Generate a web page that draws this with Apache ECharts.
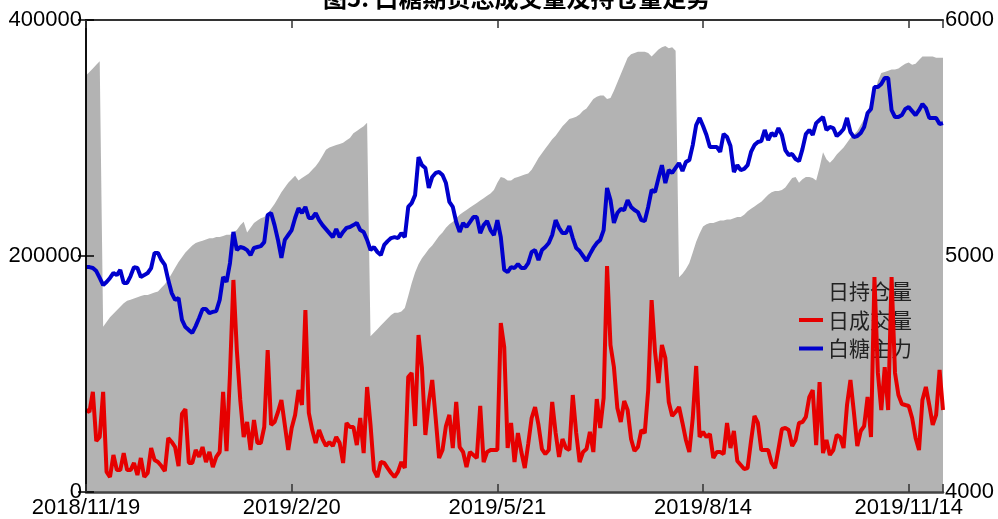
<!DOCTYPE html>
<html>
<head>
<meta charset="utf-8">
<title>白糖期货成交量及持仓量</title>
<script src="https://cdn.jsdelivr.net/npm/echarts@6/dist/echarts.min.js"></script>
<style>
  html, body { margin: 0; padding: 0; background: #fff; }
  #chart { width: 998px; height: 519px; }
</style>
</head>
<body>
<div id="chart"></div>
<script>
// x轴刻度位置（交易日序号）与标签
const tickIndex = [0, 60, 120, 180, 240]
const tickLabels = ['2018/11/19', '2019/2/20', '2019/5/21', '2019/8/14', '2019/11/14']

// 日持仓量（手）
const holding = [
  353000, 356000, 359000, 362000, 365000, 140000, 144000, 148000, 151000, 154000,
  157000, 160000, 162000, 163000, 164000, 165000, 166000, 167000, 167000, 168000,
  169000, 170000, 173000, 176000, 180000, 185000, 190000, 195000, 199000, 203000,
  206000, 209000, 211000, 212000, 213000, 214000, 215000, 215000, 216000, 216000,
  217000, 218000, 218000, 220000, 222000, 226000, 229000, 220000, 224000, 228000,
  230000, 232000, 233000, 236000, 240000, 244000, 249000, 254000, 258000, 262000,
  265000, 268000, 264000, 266000, 268000, 270000, 273000, 276000, 280000, 285000,
  290000, 292000, 293000, 294000, 295000, 296000, 298000, 300000, 304000, 306000,
  308000, 310000, 313000, 132000, 135000, 138000, 141000, 144000, 147000, 150000,
  152000, 152000, 153000, 156000, 166000, 177000, 186000, 193000, 198000, 202000,
  206000, 209000, 213000, 217000, 220000, 224000, 227000, 229000, 232000, 235000,
  237000, 239000, 241000, 243000, 245000, 247000, 249000, 251000, 253000, 256000,
  262000, 267000, 266000, 264000, 264000, 266000, 267000, 268000, 269000, 270000,
  273000, 278000, 283000, 287000, 291000, 295000, 299000, 302000, 306000, 310000,
  313000, 316000, 317000, 318000, 320000, 323000, 325000, 329000, 333000, 335000,
  336000, 336000, 333000, 334000, 340000, 347000, 354000, 361000, 368000, 371000,
  372000, 373000, 373000, 373000, 372000, 369000, 372000, 375000, 377000, 378000,
  376000, 377000, 374000, 182000, 185000, 189000, 194000, 203000, 212000, 219000,
  225000, 227000, 228000, 228000, 229000, 230000, 230000, 231000, 231000, 232000,
  233000, 233000, 235000, 238000, 240000, 242000, 244000, 246000, 249000, 252000,
  254000, 255000, 255000, 256000, 258000, 262000, 266000, 267000, 262000, 265000,
  267000, 267000, 266000, 264000, 275000, 288000, 282000, 279000, 282000, 286000,
  289000, 292000, 296000, 300000, 303000, 306000, 311000, 316000, 322000, 330000,
  338000, 348000, 355000, 356000, 357000, 358000, 358000, 359000, 361000, 363000,
  364000, 362000, 363000, 366000, 369000, 369000, 369000, 369000, 368000, 368000,
  368000
]

// 日成交量（手）
const volume = [
  69500, 67800, 84800, 43200, 46600, 84800, 17000, 12700, 31400, 18600,
  18600, 33000, 18600, 18600, 24600, 14400, 28800, 12700, 16100, 37300,
  27100, 25400, 22000, 17800, 45800, 42400, 38100, 22000, 66100, 70300,
  24600, 24600, 35600, 29700, 38100, 25400, 33900, 21200, 29700, 33900,
  84800, 34700, 100000, 179700, 120300, 78000, 46600, 59300, 35600, 61000,
  41500, 41500, 55100, 120300, 56800, 59300, 67800, 78000, 56800, 35600,
  54200, 65300, 86400, 73700, 154200, 67000, 52500, 41500, 52500, 44900,
  39000, 42400, 39000, 46600, 41500, 24600, 58500, 55100, 55100, 39800,
  62700, 33000, 89000, 56800, 18600, 12700, 25400, 24600, 20300, 16100,
  12700, 17000, 25400, 20300, 97500, 100900, 55900, 133000, 105100, 48300,
  76300, 94900, 62700, 28800, 35600, 55900, 65300, 37300, 76300, 38100,
  33900, 21200, 33900, 31400, 28800, 72900, 25400, 33900, 35600, 35600,
  35600, 143200, 122900, 37300, 58500, 25400, 50000, 33900, 20300, 40700,
  62700, 72000, 56800, 36400, 32200, 35600, 76300, 50000, 29700, 44900,
  37300, 35600, 82200, 50000, 25400, 33900, 36400, 50900, 33900, 78800,
  54200, 79700, 191500, 124600, 105900, 71200, 59300, 77100, 69500, 44900,
  34700, 38100, 52500, 50000, 86400, 162700, 118600, 92400, 124600, 113600,
  76300, 64400, 67800, 72000, 58500, 44100, 33900, 62700, 106800, 46600,
  50900, 46600, 49200, 28800, 33900, 33900, 32200, 58500, 37300, 51700,
  26300, 22900, 19500, 20300, 43200, 64400, 58500, 35600, 35600, 35600,
  24600, 20300, 36400, 53400, 54200, 52500, 39000, 44100, 58500, 59300,
  63600, 80500, 86400, 39800, 93200, 33000, 44100, 31400, 35600, 48300,
  46600, 37300, 73700, 94900, 67800, 39000, 51700, 55900, 80500, 46600,
  182200, 100900, 69500, 105900, 69500, 182200, 100900, 82200, 74600, 73700,
  72900, 62700, 45800, 35600, 78000, 89000, 73700, 56800, 65300, 103400,
  69500
]

// 白糖主力收盘价（元/吨）
const price = [
  4953, 4953, 4949, 4936, 4907, 4877, 4890, 4907, 4928, 4919,
  4941, 4886, 4886, 4915, 4953, 4949, 4911, 4919, 4928, 4949,
  5013, 5013, 4983, 4962, 4898, 4843, 4814, 4822, 4729, 4699,
  4686, 4674, 4703, 4737, 4775, 4775, 4758, 4763, 4767, 4814,
  4911, 4890, 4970, 5102, 5025, 5038, 5034, 5025, 5004, 5034,
  5038, 5042, 5059, 5174, 5182, 5131, 5068, 4992, 5068, 5089,
  5110, 5161, 5203, 5182, 5208, 5161, 5161, 5182, 5152, 5131,
  5114, 5097, 5080, 5114, 5080, 5102, 5119, 5123, 5131, 5140,
  5110, 5102, 5068, 5025, 5038, 5017, 5004, 5047, 5063, 5076,
  5080, 5076, 5097, 5080, 5208, 5224, 5258, 5419, 5385, 5373,
  5288, 5335, 5352, 5356, 5343, 5309, 5229, 5208, 5144, 5102,
  5140, 5123, 5144, 5165, 5165, 5097, 5131, 5148, 5110, 5089,
  5152, 5080, 4941, 4932, 4953, 4949, 4966, 4949, 4949, 4970,
  5017, 5025, 4983, 5025, 5038, 5055, 5089, 5152, 5119, 5097,
  5097, 5127, 5076, 5034, 5021, 5000, 4979, 5008, 5034, 5055,
  5068, 5110, 5288, 5237, 5140, 5182, 5199, 5195, 5237, 5208,
  5195, 5186, 5152, 5148, 5208, 5280, 5271, 5330, 5385, 5309,
  5364, 5352, 5373, 5394, 5360, 5398, 5407, 5470, 5555, 5585,
  5551, 5513, 5462, 5462, 5462, 5441, 5517, 5504, 5466, 5356,
  5385, 5364, 5369, 5385, 5441, 5470, 5483, 5487, 5534, 5491,
  5521, 5508, 5542, 5513, 5449, 5428, 5432, 5411, 5402, 5453,
  5517, 5534, 5513, 5563, 5576, 5589, 5534, 5547, 5542, 5508,
  5521, 5538, 5585, 5525, 5504, 5508, 5521, 5547, 5606, 5623,
  5716, 5716, 5729, 5754, 5754, 5618, 5589, 5589, 5597, 5623,
  5631, 5614, 5597, 5618, 5644, 5627, 5585, 5585, 5585, 5559,
  5563
]

const chart = echarts.init(document.getElementById('chart'))

const latin = 'Liberation Sans, Arial, sans-serif'
const cjk = 'Noto Sans CJK SC, sans-serif'

const toPairs = arr => arr.map((v, i) => [i, v])

const labelOf = v => {
  const k = tickIndex.indexOf(v)
  return k >= 0 ? tickLabels[k] : ''
}

const baseX = {
  type: 'value',
  min: 0,
  max: holding.length - 1,
  interval: 60,
  splitLine: { show: false },
  z: 10
}

const option = {
  animation: false,
  backgroundColor: '#fff',
  title: {
    text: '图5: 白糖期货总成交量及持仓量走势',
    left: 318,
    top: -19,
    textStyle: { fontFamily: cjk, fontSize: 24, fontWeight: 'bold', color: '#000' }
  },
  grid: { left: 86, right: 55, top: 20, bottom: 27 },
  legend: {
    data: ['日持仓量', '日成交量', '白糖主力'],
    orient: 'vertical',
    left: 794,
    top: 276,
    z: 2,
    icon: 'rect',
    itemWidth: 24,
    itemHeight: 4,
    itemGap: 7.5,
    textStyle: { fontFamily: cjk, fontSize: 21, color: '#222', lineHeight: 20 }
  },
  xAxis: [
    {
      ...baseX,
      position: 'bottom',
      axisLine: { lineStyle: { color: '#444', width: 2.5 } },
      axisTick: { inside: true, length: 8, lineStyle: { color: '#333', width: 1.5 } },
      axisLabel: {
        color: '#000',
        fontFamily: latin,
        fontSize: 22,
        margin: 5,
        formatter: labelOf
      }
    },
    {
      ...baseX,
      position: 'top',
      axisLine: { lineStyle: { color: '#333', width: 2 } },
      axisTick: { inside: true, length: 8, lineStyle: { color: '#333', width: 1.5 } },
      axisLabel: { show: false }
    }
  ],
  yAxis: [
    {
      type: 'value',
      min: 0,
      max: 400000,
      interval: 200000,
      z: 10,
      splitLine: { show: false },
      axisLine: { show: true, lineStyle: { color: '#000', width: 1.5 } },
      axisTick: { show: true, inside: true, length: 8, lineStyle: { color: '#000', width: 1.5 } },
      axisLabel: { color: '#000', fontFamily: latin, fontSize: 22, margin: 4, formatter: v => String(v) }
    },
    {
      type: 'value',
      min: 4000,
      max: 6000,
      interval: 1000,
      position: 'right',
      z: 10,
      splitLine: { show: false },
      axisLine: { show: true, lineStyle: { color: '#000', width: 1.5 } },
      axisTick: { show: true, inside: true, length: 8, lineStyle: { color: '#000', width: 1.5 } },
      axisLabel: { color: '#000', fontFamily: latin, fontSize: 22, margin: 2, formatter: v => String(v) }
    }
  ],
  series: [
    {
      name: '日持仓量',
      type: 'line',
      data: toPairs(holding),
      symbol: 'none',
      z: 1,
      itemStyle: { color: '#b3b3b3' },
      lineStyle: { width: 0 },
      areaStyle: { color: '#b3b3b3', opacity: 1 }
    },
    {
      name: '日成交量',
      type: 'line',
      data: toPairs(volume),
      symbol: 'none',
      z: 3,
      itemStyle: { color: '#e60000' },
      lineStyle: { color: '#e60000', width: 4 }
    },
    {
      name: '白糖主力',
      type: 'line',
      yAxisIndex: 1,
      data: toPairs(price),
      symbol: 'none',
      z: 3,
      itemStyle: { color: '#0000cc' },
      lineStyle: { color: '#0000cc', width: 4 }
    }
  ]
}

chart.setOption(option)

window.addEventListener('resize', () => chart.resize())
</script>
</body>
</html>
